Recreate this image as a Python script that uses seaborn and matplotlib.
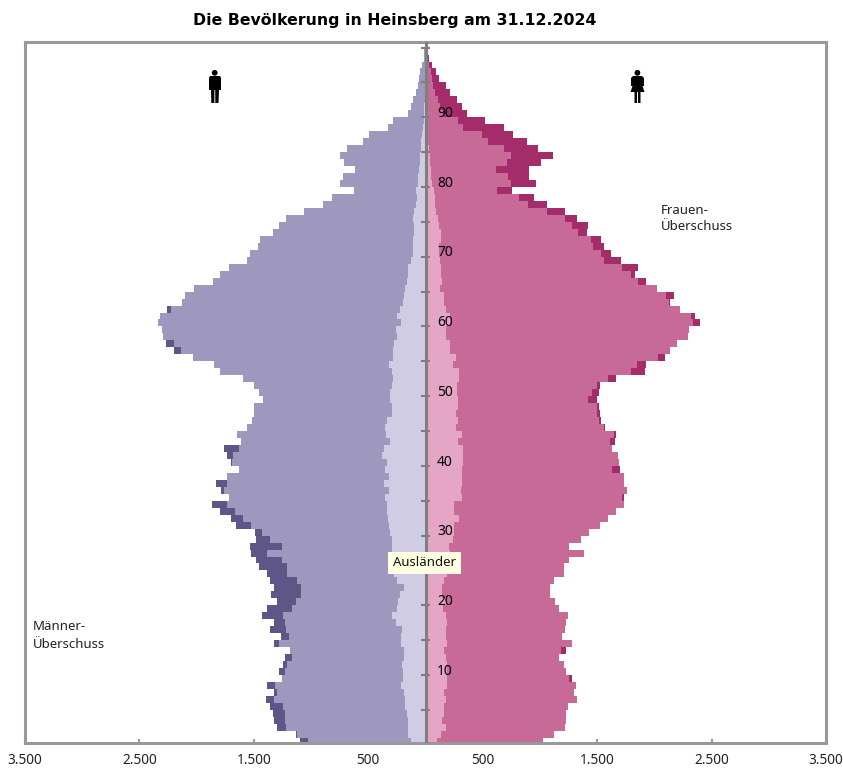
import matplotlib
matplotlib.use("Agg")
import matplotlib.pyplot as plt
from matplotlib.patches import Circle, Polygon
import numpy as np
import pandas as pd
import seaborn as sns

# persons per single year of age, index = age 0..100
men_total = [1101, 1136, 1302, 1320, 1337, 1363, 1398, 1328, 1381, 1250,
             1276, 1241, 1224, 1180, 1328, 1259, 1355, 1328, 1433, 1381,
             1294, 1346, 1328, 1363, 1381, 1451, 1477, 1521, 1538, 1477,
             1486, 1652, 1696, 1792, 1870, 1713, 1783, 1827, 1731, 1634,
             1696, 1731, 1765, 1608, 1643, 1556, 1512, 1503, 1503, 1416,
             1451, 1503, 1599, 1800, 1844, 2036, 2194, 2264, 2290, 2299,
             2342, 2316, 2255, 2124, 2106, 2019, 1853, 1792, 1713, 1556,
             1530, 1468, 1442, 1337, 1276, 1215, 1066, 900, 813, 629,
             743, 717, 612, 708, 743, 690, 542, 498, 332, 288,
             149, 131, 111, 87, 67, 59, 44, 29, 17, 9, 4]
women_total = [1031, 1119, 1215, 1224, 1232, 1241, 1328, 1302, 1311, 1276,
               1224, 1206, 1171, 1232, 1276, 1189, 1215, 1232, 1241, 1171,
               1136, 1084, 1084, 1127, 1206, 1206, 1250, 1381, 1250, 1363,
               1425, 1521, 1591, 1669, 1739, 1731, 1757, 1731, 1731, 1704,
               1687, 1678, 1634, 1652, 1661, 1573, 1536, 1527, 1512, 1503,
               1512, 1521, 1667, 1914, 1923, 2089, 2133, 2194, 2290, 2299,
               2401, 2351, 2220, 2139, 2168, 2019, 1923, 1827, 1853, 1710,
               1623, 1564, 1538, 1407, 1416, 1328, 1215, 1058, 944, 758,
               968, 903, 903, 1011, 1110, 981, 885, 763, 690, 524,
               364, 317, 277, 218, 181, 122, 94, 59, 29, 13, 9]
men_foreign = [131, 149, 155, 157, 166, 175, 175, 190, 210, 198,
               198, 201, 192, 184, 210, 210, 207, 262, 295, 245,
               242, 227, 192, 253, 271, 315, 297, 297, 297, 297,
               306, 321, 332, 338, 338, 350, 321, 367, 315, 350,
               338, 378, 367, 306, 343, 356, 338, 297, 297, 306,
               306, 297, 288, 297, 315, 288, 286, 271, 245, 262,
               218, 253, 227, 198, 192, 175, 163, 155, 157, 131,
               111, 105, 105, 102, 102, 105, 102, 81, 76, 87,
               67, 64, 59, 52, 46, 38, 35, 29, 24, 17,
               12, 10, 8, 7, 6, 5, 4, 3, 2, 1, 1]
women_foreign = [102, 137, 181, 146, 160, 160, 175, 166, 192, 192,
                 184, 184, 181, 160, 184, 175, 175, 192, 175, 157,
                 181, 142, 142, 166, 192, 225, 210, 210, 204, 239,
                 245, 253, 297, 253, 247, 315, 306, 317, 317, 321,
                 326, 326, 326, 288, 317, 268, 286, 268, 286, 286,
                 277, 277, 297, 297, 239, 268, 218, 218, 181, 181,
                 218, 218, 181, 160, 160, 131, 140, 137, 137, 131,
                 116, 122, 137, 137, 122, 107, 94, 87, 79, 70,
                 59, 52, 46, 41, 35, 29, 24, 20, 17, 15,
                 12, 10, 8, 7, 6, 5, 4, 3, 2, 1, 1]

x_ticks = [-3500, -2500, -1500, -500, 500, 1500, 2500, 3500]
x_labels = ["3.500", "2.500", "1.500", "500", "500", "1.500", "2.500", "3.500"]
age_labels = [10, 20, 30, 40, 50, 60, 70, 80, 90]

W, H = 843, 769
GRAY = "#999999"
AXIS = "#7f7f7f"

sns.set_theme(style="white")
plt.rcParams["font.family"] = ["DejaVu Sans"]

men = np.array(men_total)
women = np.array(women_total)
ages = np.arange(len(men)) + 0.5
common = np.minimum(men, women)

fig = plt.figure(figsize=(W / 100, H / 100), dpi=100)
ax = fig.add_axes([25 / W, (H - 743) / H, 801 / W, 701 / H])

# back to front: surplus, common part, foreigners
layers = [
    (-men, "#5F5688"),
    (women, "#A52C6A"),
    (-common, "#9F98BE"),
    (common, "#C76A97"),
    (-np.array(men_foreign), "#D0CCE4"),
    (np.array(women_foreign), "#E4A6C4"),
]
for values, color in layers:
    df = pd.DataFrame({"age": ages, "value": values})
    sns.barplot(data=df, x="value", y="age", orient="h", native_scale=True,
                width=1, color=color, saturation=1, linewidth=0,
                errorbar=None, ax=ax)

for patch in ax.patches:
    patch.set_antialiased(False)

ax.set_xlim(-3500, 3500)
ax.set_ylim(0.25, 100.8)
ax.set_xlabel("")
ax.set_ylabel("")
ax.set_yticks([])
ax.set_xticks(x_ticks)
ax.set_xticklabels(x_labels, fontsize=9.8, color="#222222", family="Noto Sans")
ax.tick_params(axis="x", direction="in", length=3, width=1.5, color=GRAY,
               pad=7, bottom=True)
for spine in ax.spines.values():
    spine.set_color(GRAY)
    spine.set_linewidth(2.2)

# centre axis with a mark every five years
ax.axvline(0, color=AXIS, lw=2.2, zorder=5)
ax.hlines(np.arange(5, 105, 5), -40, 40, color=AXIS, lw=1.5, zorder=5)

for age in age_labels:
    ax.text(170, age + 0.55, str(age), ha="center", va="center", fontsize=10,
            color="black", family="Noto Sans", fontweight="bold", zorder=6)


def px_text(x, y, s, **kw):
    fig.text(x / W, 1 - y / H, s, **kw)


px_text(395, 21, "Die Bevölkerung in Heinsberg am 31.12.2024", ha="center",
        va="center", fontsize=11.3, fontweight="bold", color="black")
small = dict(fontsize=9.5, color="#222222", family="Noto Sans", va="center")
px_text(661, 210, "Frauen-", **small)
px_text(661, 227, "Überschuss", **small)
px_text(33, 626, "Männer-", **small)
px_text(33, 644, "Überschuss", **small)
px_text(424.5, 563, "Ausländer", ha="center", va="center", fontsize=9.5,
        color="#111111", family="Noto Sans", zorder=10,
        bbox=dict(boxstyle="square,pad=0.35", fc="#FFFFE1", ec="none"))

# pictograms, overlay in pixel coordinates
over = fig.add_axes([0, 0, 1, 1], facecolor="none")
over.set_xlim(0, W)
over.set_ylim(H, 0)
over.axis("off")

over.add_patch(Circle((214.7, 72.8), 2.9, fc="black", lw=0))
over.add_patch(Polygon([(210, 76), (220, 76), (221, 78), (221, 90), (219, 90),
                        (218.5, 103), (215.3, 103), (215.2, 90), (214.4, 90),
                        (214.3, 103), (211.3, 103), (211, 90), (209, 90), (209, 78)],
                       fc="black", lw=0))
over.add_patch(Circle((637.4, 72.8), 2.9, fc="black", lw=0))
over.add_patch(Polygon([(633, 76), (642, 76), (644, 78), (644, 86), (642.5, 86),
                        (644.5, 92), (640.5, 92), (640.5, 103), (638, 103), (638, 92),
                        (637, 92), (637, 103), (634.5, 103), (634.5, 92), (630.5, 92),
                        (632.5, 86), (631, 86), (631, 78)], fc="black", lw=0))

fig.savefig("out.png", dpi=100)
